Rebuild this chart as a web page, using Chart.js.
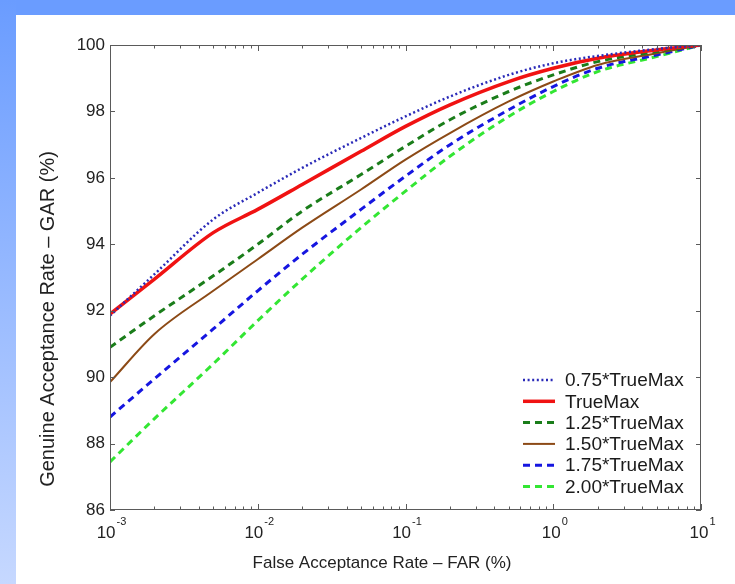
<!DOCTYPE html>
<html lang="en">
<head>
<meta charset="UTF-8">
<title>GAR vs FAR</title>
<script src="https://cdn.jsdelivr.net/npm/chart.js"></script>
<style>
    html, body { margin: 0; padding: 0; }
    body {
        width: 735px;
        height: 584px;
        position: relative;
        overflow: hidden;
        background: #fff;
    }
    .top-bar {
        position: absolute; left: 0; top: 0;
        width: 735px; height: 15px;
        background: #6a9cff;
    }
    .side-bar {
        position: absolute; left: 0; top: 0;
        width: 16px; height: 584px;
        background: linear-gradient(to bottom, #6a9cff, #c6d8ff);
    }
    #chart { position: absolute; left: 0; top: 0; }
</style>
</head>
<body>
<div class="top-bar"></div>
<div class="side-bar"></div>
<canvas id="chart" width="735" height="584"></canvas>

<script>
// FAR sample points (%), log axis
const far = [0.001, 0.002, 0.005, 0.01, 0.02, 0.05, 0.1, 0.2, 0.5, 1, 2, 5, 10];

// GAR (%) for each threshold setting
const gar075 = [91.85, 93.1, 94.75, 95.55, 96.3, 97.2, 97.85, 98.45, 99.1, 99.45, 99.67, 99.88, 100];
const garTrue = [91.9, 92.95, 94.35, 95.05, 95.8, 96.8, 97.55, 98.2, 98.9, 99.3, 99.6, 99.85, 100];
const gar125 = [90.9, 91.85, 93.05, 94.0, 95.0, 96.1, 96.95, 97.75, 98.6, 99.1, 99.5, 99.8, 100];
const gar150 = [89.85, 91.3, 92.6, 93.55, 94.5, 95.65, 96.55, 97.35, 98.3, 98.9, 99.4, 99.75, 100];
const gar175 = [88.8, 89.95, 91.45, 92.6, 93.7, 95.05, 96.05, 97.0, 98.05, 98.75, 99.3, 99.7, 100];
const gar200 = [87.45, 88.75, 90.4, 91.7, 92.95, 94.5, 95.6, 96.65, 97.85, 98.6, 99.2, 99.65, 100];

const seriesLabels = ['0.75*TrueMax', 'TrueMax', '1.25*TrueMax', '1.50*TrueMax', '1.75*TrueMax', '2.00*TrueMax'];

// axis ticks
const garTicks = [86, 88, 90, 92, 94, 96, 98, 100];
const farDecades = [0.001, 0.01, 0.1, 1, 10];

const FONT = "'Liberation Sans', Arial, sans-serif";

function pts(ys) {
    return far.map((x, i) => ({ x: x, y: ys[i] }));
}

const styles = [
    { color: '#2a2ab8', width: 2.5, dash: [2, 2.6] },
    { color: '#f01212', width: 3.5, dash: [] },
    { color: '#1a7d1a', width: 3, dash: [7, 5] },
    { color: '#8c4a16', width: 2, dash: [] },
    { color: '#1616e0', width: 3, dash: [7, 5] },
    { color: '#33e633', width: 3, dash: [7, 5] }
];

const allSeries = [gar075, garTrue, gar125, gar150, gar175, gar200];

const datasets = allSeries.map((ys, i) => ({
    label: seriesLabels[i],
    data: pts(ys),
    borderColor: styles[i].color,
    borderWidth: styles[i].width,
    borderDash: styles[i].dash,
    pointRadius: 0,
    fill: false,
    cubicInterpolationMode: 'monotone'
}));

// matlab-like box, inward ticks, superscript decade labels, titles and legend
const figureDecor = {
    id: 'figureDecor',
    afterDraw(chart) {
        const ctx = chart.ctx;
        const a = chart.chartArea;
        const xs = chart.scales.x;
        const ys = chart.scales.y;

        ctx.save();
        ctx.strokeStyle = '#5a5a5a';
        ctx.lineWidth = 1;
        ctx.setLineDash([]);
        ctx.strokeRect(a.left + 0.5, a.top + 0.5, a.right - a.left - 1, a.bottom - a.top - 1);

        ctx.beginPath();
        // y ticks on both sides
        garTicks.forEach(v => {
            const y = Math.round(ys.getPixelForValue(v)) + 0.5;
            ctx.moveTo(a.left, y); ctx.lineTo(a.left + 5, y);
            ctx.moveTo(a.right, y); ctx.lineTo(a.right - 5, y);
        });
        // x major + minor ticks, top and bottom
        farDecades.forEach((d, k) => {
            for (let m = 1; m <= 9; m++) {
                if (k === farDecades.length - 1 && m > 1) break;
                const x = Math.round(xs.getPixelForValue(d * m)) + 0.5;
                const len = m === 1 ? 6 : 3.5;
                ctx.moveTo(x, a.bottom); ctx.lineTo(x, a.bottom - len);
                ctx.moveTo(x, a.top); ctx.lineTo(x, a.top + len);
            }
        });
        ctx.stroke();

        // decade labels 10^n
        ctx.fillStyle = '#222';
        ctx.textBaseline = 'alphabetic';
        farDecades.forEach(d => {
            const exp = String(Math.round(Math.log10(d)));
            ctx.font = '17px ' + FONT;
            const wBase = ctx.measureText('10').width;
            ctx.font = '11px ' + FONT;
            const wExp = ctx.measureText(exp).width;
            const cx = xs.getPixelForValue(d) + 1;
            const x0 = cx - (wBase + wExp) / 2;
            ctx.font = '17px ' + FONT;
            ctx.textAlign = 'left';
            ctx.fillText('10', x0, a.bottom + 28);
            ctx.font = '11px ' + FONT;
            ctx.fillText(exp, x0 + wBase + 1, a.bottom + 15);
        });

        // axis titles
        ctx.textAlign = 'center';
        ctx.textBaseline = 'middle';
        ctx.font = '17px ' + FONT;
        ctx.fillText('False Acceptance Rate \u2013 FAR (%)', a.left + 272, a.bottom + 53);
        ctx.save();
        ctx.font = '20px ' + FONT;
        ctx.translate(48, a.top + 274);
        ctx.rotate(-Math.PI / 2);
        ctx.fillText('Genuine Acceptance Rate \u2013 GAR (%)', 0, 0);
        ctx.restore();

        // legend inside lower-right corner
        const lx = a.right - 178;
        const ly = a.bottom - 130;
        chart.data.datasets.forEach((ds, i) => {
            const y = ly + i * 21.3;
            ctx.beginPath();
            ctx.strokeStyle = ds.borderColor;
            ctx.lineWidth = ds.borderWidth;
            ctx.setLineDash(ds.borderDash);
            ctx.moveTo(lx, y);
            ctx.lineTo(lx + 32, y);
            ctx.stroke();
            ctx.setLineDash([]);
            ctx.fillStyle = '#1a1a1a';
            ctx.font = '19px ' + FONT;
            ctx.textAlign = 'left';
            ctx.textBaseline = 'middle';
            ctx.fillText(ds.label, lx + 42, y + 1);
        });
        ctx.restore();
    }
};

new Chart(document.getElementById('chart'), {
    type: 'line',
    data: { datasets: datasets },
    options: {
        responsive: false,
        animation: false,
        layout: { padding: { top: 45, right: 34, left: 0, bottom: 0 } },
        plugins: {
            legend: { display: false },
            tooltip: { enabled: false }
        },
        scales: {
            x: {
                type: 'logarithmic',
                min: 0.001,
                max: 10,
                grid: { display: false, drawTicks: false },
                border: { display: false },
                ticks: { display: false },
                afterFit(s) { s.height = 74; }
            },
            y: {
                type: 'linear',
                min: 86,
                max: 100,
                grid: { display: false, drawTicks: false },
                border: { display: false },
                ticks: {
                    stepSize: 2,
                    padding: 5,
                    color: '#222',
                    font: { family: FONT, size: 17 }
                },
                afterFit(s) { s.width = 110; }
            }
        }
    },
    plugins: [figureDecor]
});
</script>
</body>
</html>
